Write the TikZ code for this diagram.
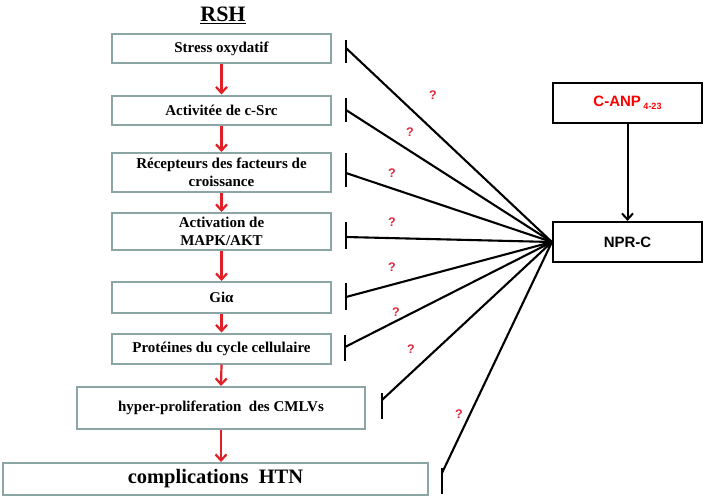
\documentclass[tikz,border=0pt]{standalone}
\usepackage{fontspec}
\setmainfont{Liberation Serif}
\newfontfamily\arialf{Liberation Sans}
\usetikzlibrary{arrows.meta}
\definecolor{boxgray}{RGB}{140,165,165}
\definecolor{arrred}{RGB}{226,30,38}
\definecolor{qred}{RGB}{220,40,60}
\begin{document}
\begin{tikzpicture}[x=1pt,y=-1pt,
  lbox/.style={draw=boxgray, line width=2pt, inner sep=0pt, align=center,
    font=\bfseries\fontsize{15}{18}\selectfont},
  rbox/.style={draw=black, line width=2.2pt, inner sep=0pt, align=center,
    minimum width=149, minimum height=40, font=\arialf\bfseries\fontsize{15}{18}\selectfont},
  redarr/.style={draw=arrred, line width=2.2pt, -{Straight Barb[length=6pt,width=11pt]}},
  blkarr/.style={draw=black, line width=2pt, -{Straight Barb[length=6pt,width=11pt]}},
  inh/.style={draw=black, line width=2.1pt},
  tbar/.style={draw=black, line width=2.5pt},
  qm/.style={text=qred, font=\arialf\bfseries\fontsize{12.5}{13}\selectfont, inner sep=0pt}
]
\useasboundingbox (0,0) rectangle (705,496);
\fill[white] (0,0) rectangle (705,496);

% title
\node[font=\bfseries\fontsize{22}{24}\selectfont, inner sep=0pt] (title) at (223,15) {\underline{RSH}};

% left chain
\node[lbox, minimum width=219, minimum height=29] (b1) at (221.5,48.5) {Stress oxydatif};
\node[lbox, minimum width=219, minimum height=29] (b2) at (221.5,110) {Activitée de c-Src};
\node[lbox, minimum width=219, minimum height=39] (b3) at (221.5,172.5) {Récepteurs des facteurs de\\croissance};
\node[lbox, minimum width=219, minimum height=37] (b4) at (221.5,231.5) {Activation de\\MAPK/AKT};
\node[lbox, minimum width=219, minimum height=31] (b5) at (221.5,297.5) {Giα};
\node[lbox, minimum width=219, minimum height=30] (b6) at (221.5,348.5) {Protéines du cycle cellulaire};
\node[lbox, minimum width=288, minimum height=42] (b7) at (221,408) {hyper-proliferation\ \ des CMLVs};
\node[lbox, minimum width=425, minimum height=32, font=\bfseries\fontsize{20.5}{22}\selectfont] (b8) at (215.5,479) {complications\ \ HTN};

\draw[redarr] (b1.south) -- (b2.north);
\draw[redarr] (b2.south) -- (b3.north);
\draw[redarr] (b3.south) -- (b4.north);
\draw[redarr] (b4.south) -- (b5.north);
\draw[redarr] (b5.south) -- (b6.north);
\draw[redarr] (b6.south) -- (b7.north);
\draw[redarr] (b7.south) -- (b7.south |- b8.north);

% right boxes
\node[rbox, text=red] (canp) at (627.5,103) {C-ANP\,\raisebox{-3pt}{\fontsize{9}{9}\selectfont 4-23}};
\node[rbox] (npr) at (627.5,242) {NPR-C};
\draw[blkarr] (canp.south) -- (npr.north);

% inhibition end points
\coordinate (t1) at (346,48);
\coordinate (t2) at (346,110);
\coordinate (t3) at (346,173);
\coordinate (t4) at (346,237);
\coordinate (t5) at (346,297);
\coordinate (t6) at (345,347);
\coordinate (t7) at (382,400);
\coordinate (t8) at (442,473);

\foreach \t in {t1,t2,t3,t4,t5,t6,t7,t8}
  \draw[inh] (npr.west) -- (\t);

\draw[tbar] (t1) +(0,-8) -- +(0,15);
\draw[tbar] (t2) +(0,-12) -- +(0,12);
\draw[tbar] (t3) +(0,-20) -- +(0,14);
\draw[tbar] (t4) +(0,-15) -- +(0,12);
\draw[tbar] (t5) +(0,-14) -- +(0,13);
\draw[tbar] (t6) +(0,-12) -- +(0,14);
\draw[tbar] (t7) +(0,-7) -- +(0,19);
\draw[tbar] (t8) +(0,-5) -- +(0,21);

% question marks
\node[qm] (q1) at (433,95) {?};
\node[qm] (q2) at (410,132) {?};
\node[qm] (q3) at (392,173) {?};
\node[qm] (q4) at (392,222) {?};
\node[qm] (q5) at (392,267) {?};
\node[qm] (q6) at (396,312) {?};
\node[qm] (q7) at (411,349) {?};
\node[qm] (q8) at (459,414) {?};
\end{tikzpicture}
\end{document}
